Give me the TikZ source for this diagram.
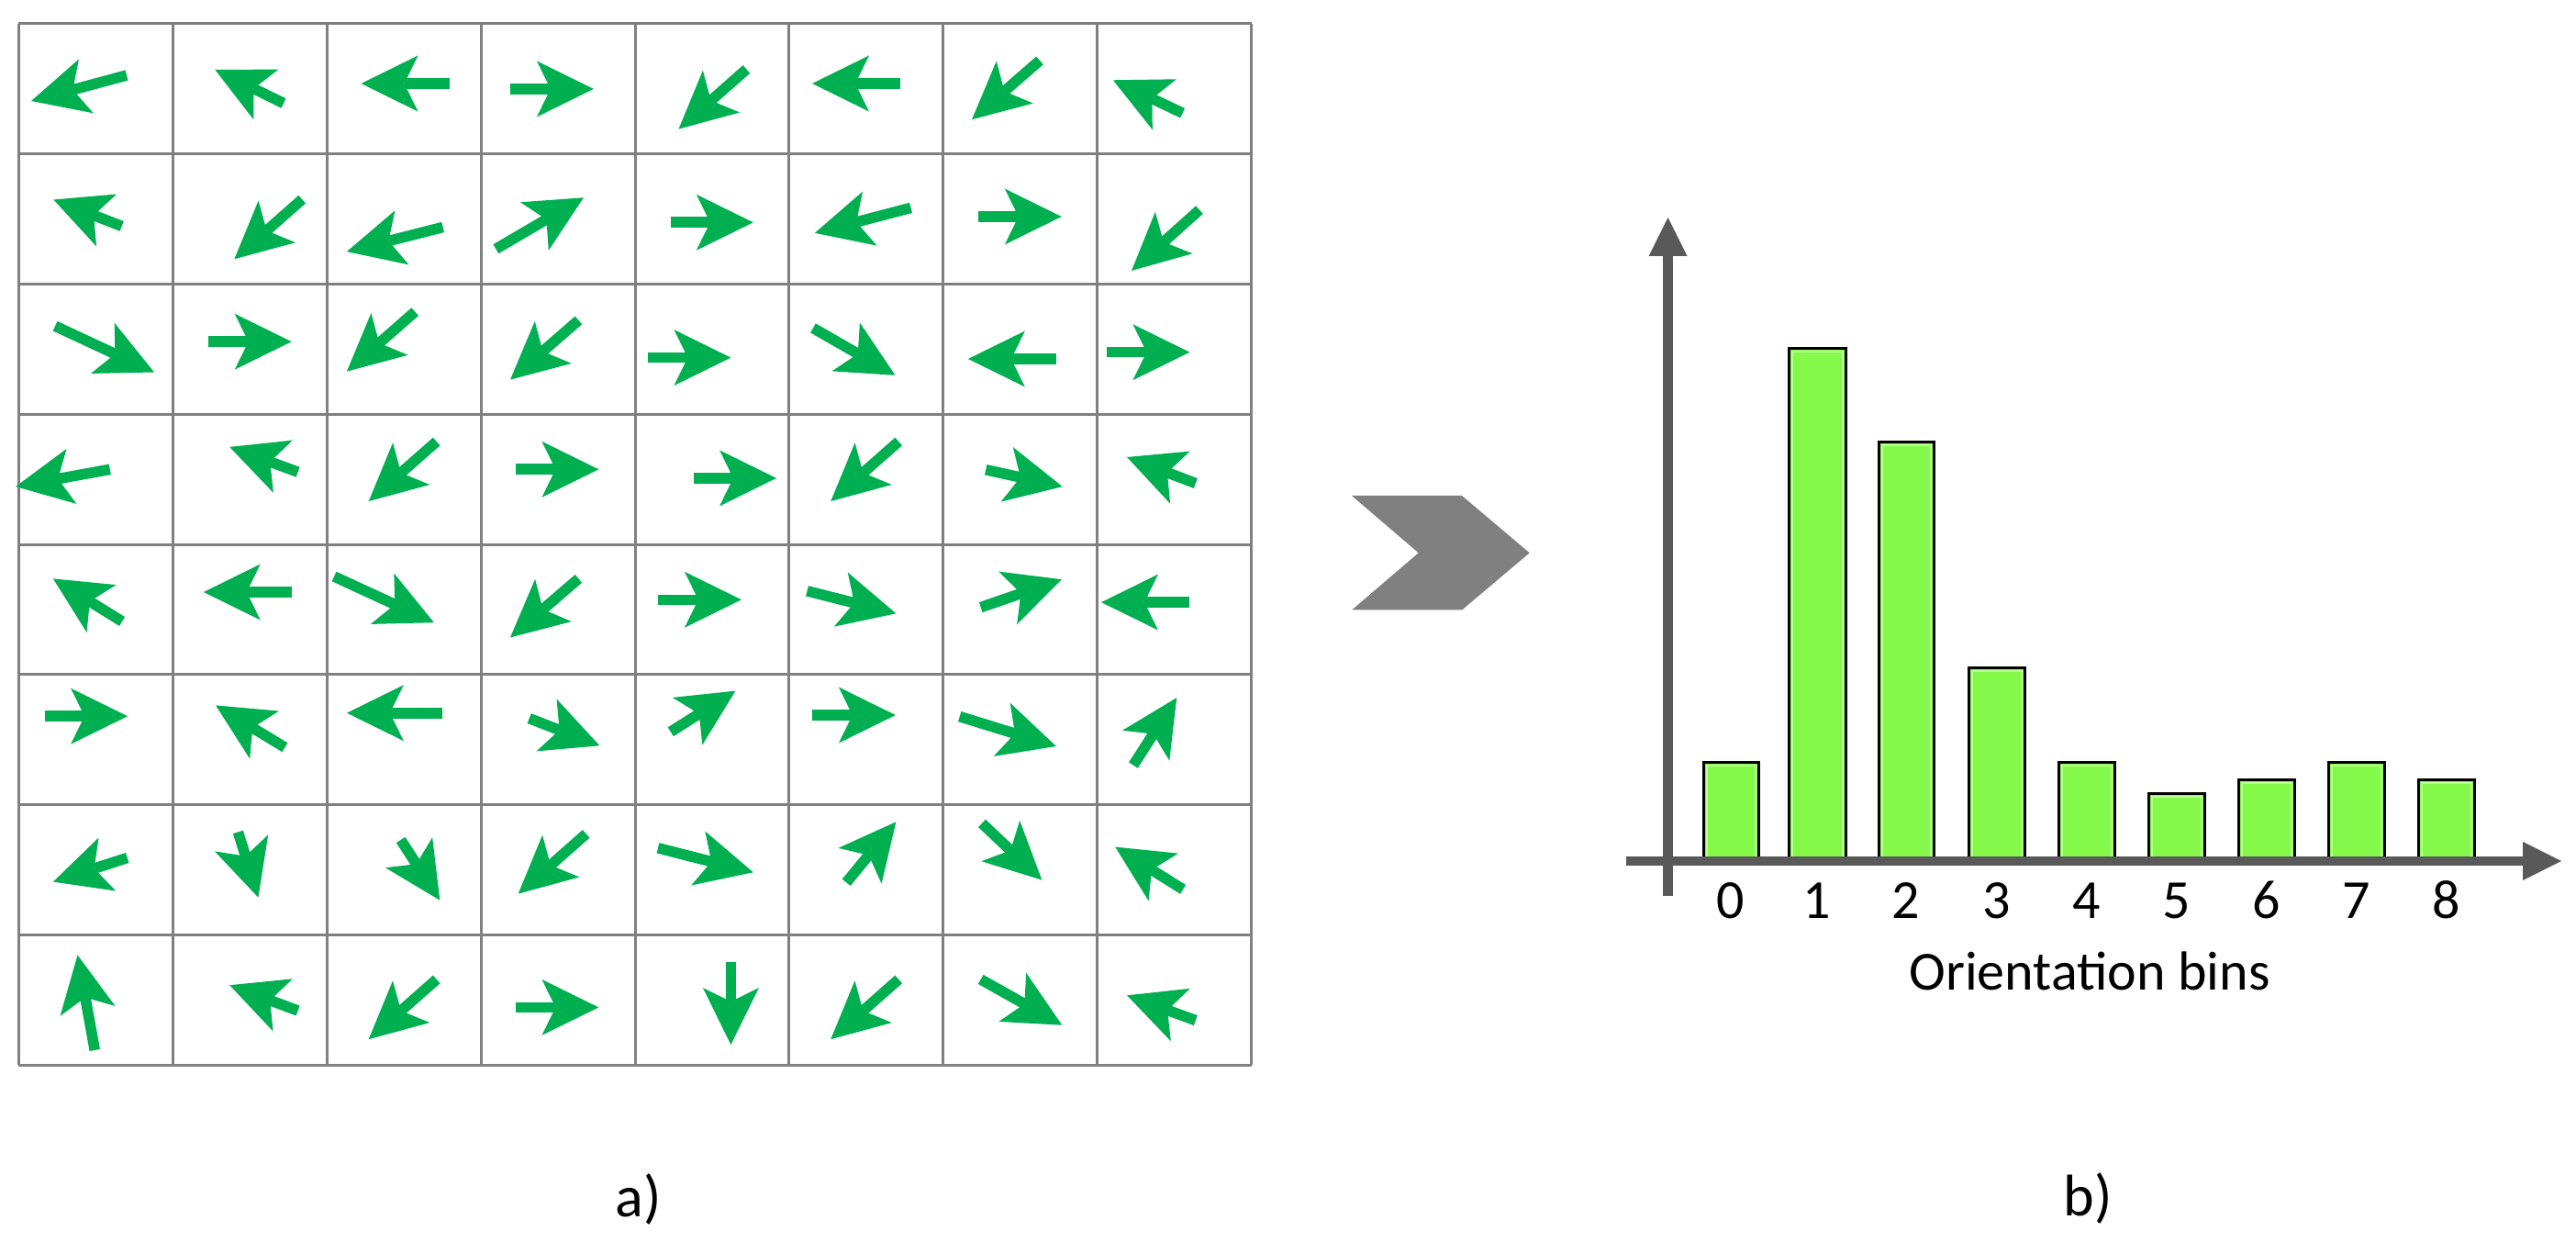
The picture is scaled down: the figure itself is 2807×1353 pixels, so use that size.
\documentclass[tikz,border=0pt]{standalone}
\usepackage{fontspec}
\setmainfont{Carlito}
\usetikzlibrary{arrows.meta}
\definecolor{arrgreen}{HTML}{00B050}
\definecolor{bargreen}{RGB}{132,249,74}
\definecolor{barlight}{RGB}{185,255,150}
\definecolor{axisgray}{HTML}{595959}
\definecolor{gridgray}{HTML}{808080}
\begin{document}
\begin{tikzpicture}[x=0.5pt,y=-0.5pt,
  garrow/.style={draw=arrgreen,line width=5.8pt,
    -{Stealth[length=31pt,width=30.5pt,inset=7.5pt,line width=0pt,fill=arrgreen]}},
  axisarrow/.style={draw=axisgray,line width=5.25pt,
    -{Triangle[length=21pt,width=21pt,line width=0pt,fill=axisgray]}},
  gridline/.style={draw=gridgray,line width=1.5pt},
  barbox/.style={fill=bargreen,draw=black,line width=1.5pt},
  barshine/.style={draw=barlight,line width=1pt},
  lbl/.style={font=\fontsize{30}{36}\selectfont,inner sep=0pt,anchor=base},
  captxt/.style={font=\fontsize{32}{38}\selectfont,inner sep=0pt,anchor=base}]
\useasboundingbox (0,0) rectangle (2807,1353);
% grid
\foreach \c in {0,...,8}
  \draw[gridline] ({20.2+167.95*\c},25.9) -- ({20.2+167.95*\c},1160.3);
\foreach \r in {0,...,8}
  \draw[gridline] (20.2,{25.9+141.8*\r}) -- (1363.8,{25.9+141.8*\r});
% arrows (tail -> tip)
\foreach \a/\b/\c/\d in {
 138/82/34/110, 309/112.5/234.2/75.8, 489.9/91/393.5/91, 556/96.9/646.9/96.9,
 813.4/75.5/739.5/140.6, 981.4/91/885/91, 1133/65.9/1059/130.2, 1288.6/123.2/1212.9/87.3,
 132.7/246.4/58.3/217.5, 329.2/217.2/255.3/282.3, 482.6/247.5/377.9/274.1, 540.4/271.2/635.9/215.3,
 731.2/242.3/820.8/242.3, 992.5/226.4/887.8/253.8, 1065.9/236/1156.8/236, 1307/228.6/1233/294.9,
 60.1/355.2/168/405.5, 226.8/372.2/317.7/372.2, 452.2/339.6/377.9/404.7, 630.4/348.9/556/413.6,
 705.5/389.6/796.4/389.6, 886/357.4/975.5/408.8, 1150.9/391/1054.9/391, 1206/383.7/1296.4/383.7,
 119.8/511.3/17/530.1, 324.6/514.2/250.2/486.9, 475.7/481/401.7/546.1, 562/511.3/652.4/511.3,
 756/520.9/846/520.9, 979.2/481/905.2/546.1, 1074.2/511.7/1157.8/530.1, 1302.8/526.5/1228/498,
 133.1/677/57.9/630.4, 318.2/645/221.8/645, 364.1/628/472.9/678.2, 630.4/630.4/556/694.4,
 717/653.3/807.9/653.3, 879.5/643.8/976.4/668.3, 1068.7/661.6/1156.8/631.2, 1296/656.1/1200/656.1,
 49.1/780.2/139.1/780.2, 310.4/814.2/235.1/768.4, 482.1/776.7/377.9/776.7, 576.7/782.6/653.4/812.3,
 730.8/797.2/801.5/752.6, 885/779/975.9/779, 1045.7/780.6/1150.9/813, 1234.9/833.6/1282.2/760.1,
 138.7/934.5/57.9/960.6, 259.4/906.4/281.4/977.6, 436.7/915/479.3/980.7, 638.7/908.4/564.7/973.6,
 717/923.8/820.8/950.3, 922.2/961.3/976.4/895.3, 1070/896.9/1135.3/958.6, 1289.1/968.9/1215.2/922.6,
 103.3/1144/84.5/1040.4, 324.6/1101/250.2/1073.2, 475.7/1066.9/401.7/1132.2, 562/1097.4/652.4/1097.4,
 796.4/1048.3/796.4/1138.1, 979.2/1066.9/905.2/1132.2, 1068.7/1066.9/1157.3/1116.7, 1302.8/1111.6/1228/1084.3}
  \draw[garrow] (\a,\b) -- (\c,\d);
% chevron
\fill[gridgray] (1473,540) -- (1593,540) -- (1666.7,602.3) -- (1593.3,664.3)
  -- (1473.3,664.3) -- (1545.7,602.3) -- cycle;
% bars
\foreach \n/\l/\r/\t in {0/1856/1916/830.6, 1/1949/2011/379.6, 2/2047/2107/482,
  3/2145/2206/727, 4/2243/2304/830, 5/2341/2402/864.5, 6/2439/2500/849.3,
  7/2537/2598/830, 8/2635/2696/849.3}{
  \draw[barbox] (\l,\t) rectangle (\r,936);
  \draw[barshine] ({\l+3.5},934) -- ({\l+3.5},{\t+3.5}) -- ({\r-3.5},{\t+3.5}) -- ({\r-3.5},934);
  \node[lbl] (bin\n) at ({(\l+\r)/2},1000) {\n};
}
% axes
\coordinate (yfoot) at (1817.5,976);
\coordinate (ytop) at (1817.5,237);
\coordinate (xfoot) at (1772,938);
\coordinate (xtip) at (2791,938);
\draw[axisarrow] (yfoot) -- (ytop);
\draw[axisarrow] (xfoot) -- (xtip);
\node[lbl] (xlabel) at (2277,1078) {Orientation bins};
\node[captxt] (capa) at (696,1325) {a)};
\node[captxt] (capb) at (2275,1324) {b)};
\end{tikzpicture}
\end{document}
